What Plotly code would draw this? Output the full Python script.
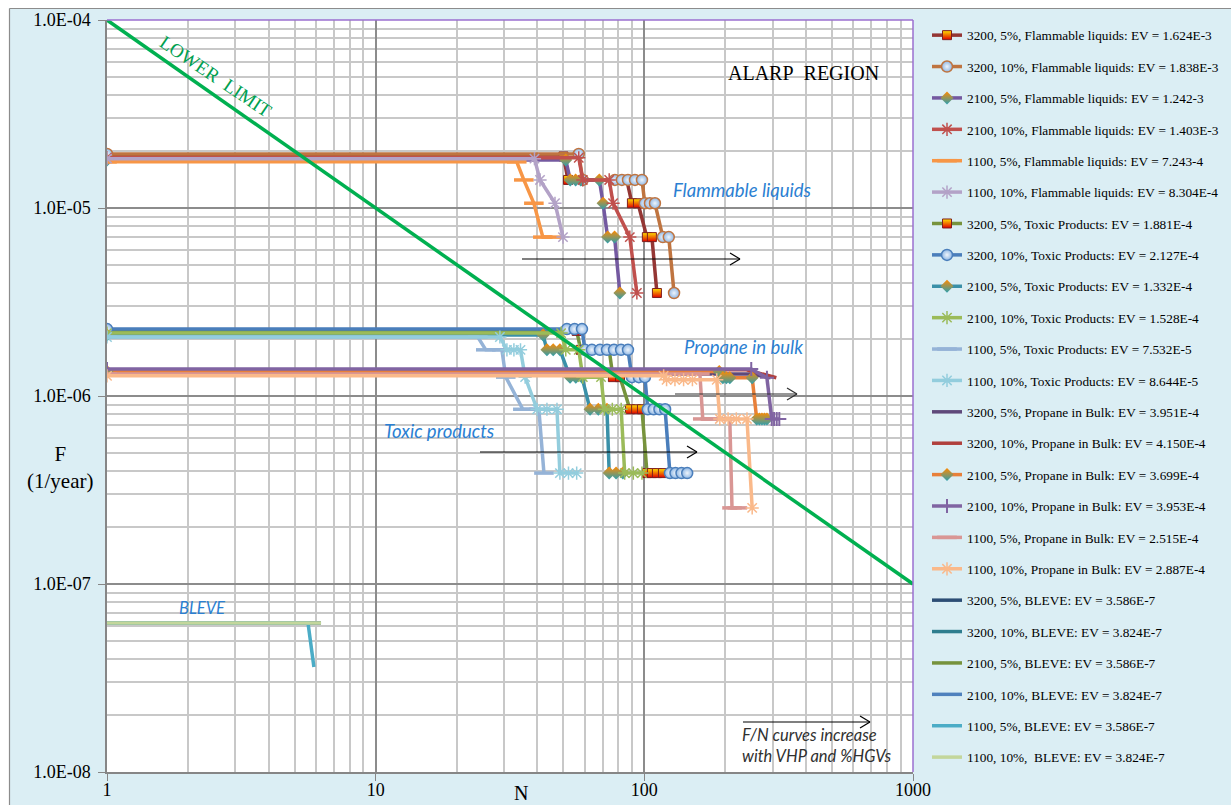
import plotly.graph_objects as go

# ---------------- data ----------------
# Flammable liquids
FL3200_5_N = [1, 50, 52, 86, 89.9, 94.7, 102.2, 106.7, 111.4]
FL3200_5_F = [1.88e-5, 1.88e-5, 1.41e-5, 1.41e-5, 1.06e-5, 1.06e-5, 7.0e-6, 7.0e-6, 3.53e-6]
FL3200_10_N = [1, 57, 59, 77.7, 82.5, 86.9, 92.3, 98.0, 100.4, 104.9, 109.5, 117.2, 123.3, 129]
FL3200_10_F = [1.94e-5, 1.94e-5, 1.41e-5, 1.41e-5, 1.41e-5, 1.41e-5, 1.41e-5, 1.41e-5,
               1.06e-5, 1.06e-5, 1.06e-5, 7.0e-6, 7.0e-6, 3.53e-6]
FL2100_5_N = [1, 51, 53, 55.5, 58, 68, 70.2, 73.0, 77.5, 81.1]
FL2100_5_F = [1.80e-5, 1.80e-5, 1.41e-5, 1.41e-5, 1.41e-5, 1.41e-5, 1.06e-5, 7.0e-6, 7.0e-6, 3.53e-6]
FL2100_10_N = [1, 57, 59, 74, 76.5, 88.3, 93.8]
FL2100_10_F = [1.85e-5, 1.85e-5, 1.41e-5, 1.41e-5, 1.06e-5, 7.0e-6, 3.53e-6]
FL1100_5_N = [1, 33.5, 35.6, 38.8, 41.9, 45.2]
FL1100_5_F = [1.76e-5, 1.76e-5, 1.41e-5, 1.06e-5, 7.0e-6, 7.0e-6]
FL1100_10_N = [1, 39, 40.9, 46.5, 49.8]
FL1100_10_F = [1.83e-5, 1.83e-5, 1.41e-5, 1.06e-5, 7.0e-6]

# Toxic products
TX3200_5_N = [1, 56, 58, 74, 76.4, 81.2, 88.4, 93.2, 98.0, 102.3, 106.7, 111.4, 117.3]
TX3200_5_F = [2.22e-6, 2.22e-6, 1.76e-6, 1.76e-6, 1.26e-6, 1.26e-6, 8.5e-7, 8.5e-7, 8.5e-7,
              3.89e-7, 3.89e-7, 3.89e-7, 3.89e-7]
TX3200_10_N = [1, 51.5, 55, 58.6, 60.1, 63.8, 68.4, 72.6, 77.1, 81.9, 86.9, 89.9, 95.4, 100.5,
               103, 108.3, 113.8, 119.5, 124.5, 130.6, 137.5, 144.4]
TX3200_10_F = [2.27e-6, 2.27e-6, 2.27e-6, 2.27e-6, 1.76e-6, 1.76e-6, 1.76e-6, 1.76e-6, 1.76e-6,
               1.76e-6, 1.76e-6, 1.26e-6, 1.26e-6, 1.26e-6, 8.5e-7, 8.5e-7, 8.5e-7, 8.5e-7,
               3.89e-7, 3.89e-7, 3.89e-7, 3.89e-7]
TX2100_5_N = [1, 42, 43.4, 45.8, 48.5, 52.9, 55.6, 58.6, 62.8, 67.4, 72.6, 74, 78.5, 83.2]
TX2100_5_F = [2.11e-6, 2.11e-6, 1.76e-6, 1.76e-6, 1.76e-6, 1.26e-6, 1.26e-6, 1.26e-6,
              8.5e-7, 8.5e-7, 8.5e-7, 3.89e-7, 3.89e-7, 3.89e-7]
TX2100_10_N = [1, 49, 51, 57, 59, 69, 71, 76, 82, 84.5, 91, 98]
TX2100_10_F = [2.16e-6, 2.16e-6, 1.76e-6, 1.76e-6, 1.26e-6, 1.26e-6, 8.5e-7, 8.5e-7, 8.5e-7,
               3.89e-7, 3.89e-7, 3.89e-7]
TX1100_5_N = [1, 24, 25.7, 29.5, 30.5, 35.3, 40.5, 42.3]
TX1100_5_F = [2.06e-6, 2.06e-6, 1.76e-6, 1.76e-6, 1.26e-6, 8.5e-7, 8.5e-7, 3.89e-7]
TX1100_10_N = [1, 29, 30.8, 32.7, 34.6, 36, 39.9, 43.4, 47.3, 48.5, 52.2, 56]
TX1100_10_F = [2.06e-6, 2.06e-6, 1.76e-6, 1.76e-6, 1.76e-6, 1.26e-6, 8.5e-7, 8.5e-7, 8.5e-7,
               3.89e-7, 3.89e-7, 3.89e-7]

# Propane in bulk
PR3200_5_N = [1, 250, 295]
PR3200_5_F = [1.31e-6, 1.31e-6, 1.25e-6]
PR3200_10_N = [1, 240, 310]
PR3200_10_F = [1.38e-6, 1.38e-6, 1.25e-6]
PR2100_5_N = [1, 190, 196, 202, 208, 252, 262, 268, 274, 280, 286]
PR2100_5_F = [1.35e-6, 1.35e-6, 1.25e-6, 1.25e-6, 1.25e-6, 1.25e-6, 7.55e-7, 7.55e-7, 7.55e-7,
              7.55e-7, 7.55e-7]
PR2100_10_N = [1, 250, 286, 298, 304, 311, 318]
PR2100_10_F = [1.39e-6, 1.39e-6, 1.25e-6, 7.55e-7, 7.55e-7, 7.55e-7, 7.55e-7]
PR1100_5_N = [1, 161, 165, 176, 208, 212, 222]
PR1100_5_F = [1.31e-6, 1.31e-6, 7.55e-7, 7.55e-7, 7.55e-7, 2.54e-7, 2.54e-7]
PR1100_10_N = [1, 118, 121, 130, 140, 151, 186, 191, 205, 220, 241, 252]
PR1100_10_F = [1.28e-6, 1.28e-6, 1.22e-6, 1.22e-6, 1.22e-6, 1.22e-6, 1.22e-6, 7.55e-7, 7.55e-7,
               7.55e-7, 7.55e-7, 2.54e-7]

# BLEVE
BL3200_5_N, BL3200_5_F = [1, 6.26], [6.2e-8, 6.2e-8]
BL3200_10_N, BL3200_10_F = [1, 6.26], [6.2e-8, 6.2e-8]
BL2100_5_N, BL2100_5_F = [1, 6.26], [6.2e-8, 6.2e-8]
BL2100_10_N, BL2100_10_F = [1, 6.26], [6.2e-8, 6.2e-8]
BL1100_5_N, BL1100_5_F = [1, 5.6, 5.89], [6.2e-8, 6.2e-8, 3.62e-8]
BL1100_10_N, BL1100_10_F = [1, 6.26], [6.2e-8, 6.2e-8]

# Lower limit criterion line
LL_N = [1, 1000]
LL_F = [1e-4, 1e-7]

X_TICKS = [1, 10, 100, 1000]
X_TICKTEXT = ["1", "10", "100", "1000"]
Y_TICKS = [1e-8, 1e-7, 1e-6, 1e-5, 1e-4]
Y_TICKTEXT = ["1.0E-08", "1.0E-07", "1.0E-06", "1.0E-05", "1.0E-04"]

# ---------------- styles ----------------
def SQ():
    return dict(symbol="square", size=9, color="#FFE000",
                gradient=dict(type="vertical", color="#E00000"),
                line=dict(color="#7F1F1F", width=1))

def CI(edge):
    return dict(symbol="circle", size=11, color="#8DB6E4",
                gradient=dict(type="radial", color="#EEF4FB"),
                line=dict(color=edge, width=1.5))

def DI():
    return dict(symbol="diamond", size=10, color="#FF8A00",
                gradient=dict(type="vertical", color="#2A9FB0"),
                line=dict(width=0))

def AST(c):
    return dict(symbol="asterisk-open", size=11, line=dict(color=c, width=1.5))

def DASH(c):
    return dict(symbol="line-ew-open", size=14, line=dict(color=c, width=3.5))

def PLUS(c):
    return dict(symbol="cross-thin-open", size=10, line=dict(color=c, width=2))

series = [
    ("3200, 5%, Flammable liquids: EV = 1.624E-3", FL3200_5_N, FL3200_5_F, "#943634", SQ()),
    ("3200, 10%, Flammable liquids: EV = 1.838E-3", FL3200_10_N, FL3200_10_F, "#BF7440", CI("#BF7440")),
    ("2100, 5%, Flammable liquids: EV = 1.242-3", FL2100_5_N, FL2100_5_F, "#7459A0", DI()),
    ("2100, 10%, Flammable liquids: EV = 1.403E-3", FL2100_10_N, FL2100_10_F, "#C0504D", AST("#C0504D")),
    ("1100, 5%, Flammable liquids: EV = 7.243-4", FL1100_5_N, FL1100_5_F, "#F79646", DASH("#F79646")),
    ("1100, 10%, Flammable liquids: EV = 8.304E-4", FL1100_10_N, FL1100_10_F, "#B3A2C7", AST("#B3A2C7")),
    ("3200, 5%, Toxic Products: EV = 1.881E-4", TX3200_5_N, TX3200_5_F, "#77933C", SQ()),
    ("3200, 10%, Toxic Products: EV = 2.127E-4", TX3200_10_N, TX3200_10_F, "#4A7EBB", CI("#4A7EBB")),
    ("2100, 5%, Toxic Products: EV = 1.332E-4", TX2100_5_N, TX2100_5_F, "#3A90A8", DI()),
    ("2100, 10%, Toxic Products: EV = 1.528E-4", TX2100_10_N, TX2100_10_F, "#9BBB59", AST("#9BBB59")),
    ("1100, 5%, Toxic Products: EV = 7.532E-5", TX1100_5_N, TX1100_5_F, "#95B3D7", DASH("#95B3D7")),
    ("1100, 10%, Toxic Products: EV = 8.644E-5", TX1100_10_N, TX1100_10_F, "#93CDDD", AST("#93CDDD")),
    ("3200, 5%, Propane in Bulk: EV = 3.951E-4", PR3200_5_N, PR3200_5_F, "#5F497A", None),
    ("3200, 10%, Propane in Bulk: EV = 4.150E-4", PR3200_10_N, PR3200_10_F, "#B0403D", None),
    ("2100, 5%, Propane in Bulk: EV = 3.699E-4", PR2100_5_N, PR2100_5_F, "#E8803A", DI()),
    ("2100, 10%, Propane in Bulk: EV = 3.953E-4", PR2100_10_N, PR2100_10_F, "#8064A2", PLUS("#8064A2")),
    ("1100, 5%, Propane in Bulk: EV = 2.515E-4", PR1100_5_N, PR1100_5_F, "#D99694", DASH("#D99694")),
    ("1100, 10%, Propane in Bulk: EV = 2.887E-4", PR1100_10_N, PR1100_10_F, "#FAB98A", AST("#FAB98A")),
    ("3200, 5%, BLEVE: EV = 3.586E-7", BL3200_5_N, BL3200_5_F, "#2C4D75", None),
    ("3200, 10%, BLEVE: EV = 3.824E-7", BL3200_10_N, BL3200_10_F, "#2E7D8E", None),
    ("2100, 5%, BLEVE: EV = 3.586E-7", BL2100_5_N, BL2100_5_F, "#76923C", None),
    ("2100, 10%, BLEVE: EV = 3.824E-7", BL2100_10_N, BL2100_10_F, "#4F81BD", None),
    ("1100, 5%, BLEVE: EV = 3.586E-7", BL1100_5_N, BL1100_5_F, "#4BACC6", None),
    ("1100, 10%,\u00a0 BLEVE: EV = 3.824E-7", BL1100_10_N, BL1100_10_F, "#C3D69B", None),
]

fig = go.Figure()
for i, (name, N, F, col, mk) in enumerate(series):
    kw = dict(x=N, y=F, name=name, legendgroup=f"g{i}",
              line=dict(color=col, width=3.5))
    if mk:
        kw.update(mode="lines+markers", marker=mk)
    else:
        kw.update(mode="lines")
    fig.add_trace(go.Scatter(**kw))

fig.add_trace(go.Scatter(x=LL_N, y=LL_F, mode="lines", showlegend=False,
                         line=dict(color="#00B050", width=3.5)))

# ---------------- layout ----------------
W, H = 1231, 805
PL, PR_, PT, PB = 107, 913, 20, 772


def px(x, y):
    return (x - PL) / (PR_ - PL), (PB - y) / (PB - PT)


shapes = []
# outer white margin + grey frame of the chart object
for (x0, y0, x1, y1) in [(-10, -10, 9, 815), (-10, -10, 1240, 8)]:
    a, b = px(x0, y0)
    c, d = px(x1, y1)
    shapes.append(dict(type="rect", xref="paper", yref="paper", x0=a, y0=b, x1=c, y1=d,
                       fillcolor="white", line=dict(width=0), layer="below"))
a, b = px(9.5, 8.5)
c, d = px(1240, 815)
shapes.append(dict(type="line", xref="paper", yref="paper", x0=a, y0=b, x1=a, y1=d,
                   line=dict(color="#8C8C8C", width=1.2)))
shapes.append(dict(type="line", xref="paper", yref="paper", x0=a, y0=b, x1=c, y1=b,
                   line=dict(color="#8C8C8C", width=1.2)))
# purple top/right border of plot area
shapes.append(dict(type="line", xref="paper", yref="paper", x0=0, y0=1, x1=1, y1=1,
                   line=dict(color="#9B6FD0", width=1.5)))
shapes.append(dict(type="line", xref="paper", yref="paper", x0=1, y0=0, x1=1, y1=1,
                   line=dict(color="#9B6FD0", width=1.5)))


def arrow(x0, x1, y, color="#000000"):
    a, b = px(x0, y)
    c, _ = px(x1, y)
    h1, t1 = px(x1 - 10, y - 6)
    h2, t2 = px(x1 - 10, y + 6)
    for (u0, v0, u1, v1) in [(a, b, c, b), (h1, t1, c, b), (h2, t2, c, b)]:
        shapes.append(dict(type="line", xref="paper", yref="paper", x0=u0, y0=v0, x1=u1, y1=v1,
                           line=dict(color=color, width=1.2)))


arrow(522, 740, 259)
arrow(675, 797, 394, "#303030")
arrow(480, 697, 452)
arrow(743, 870, 722)

ann = []


def text(x, y, t, size, color="#000000", family="Liberation Serif", angle=0, xanchor="center",
         align="center"):
    a, b = px(x, y)
    ann.append(dict(x=a, y=b, xref="paper", yref="paper", text=t, showarrow=False,
                    font=dict(size=size, color=color, family=family), textangle=angle,
                    xanchor=xanchor, yanchor="middle", align=align))


BLUE = "#2B7FD2"
text(742, 190, "<i>Flammable liquids</i>", 18.5, BLUE, "Lato")
text(743, 347, "<i>Propane in bulk</i>", 18.5, BLUE, "Lato")
text(439, 431, "<i>Toxic products</i>", 18.5, BLUE, "Lato")
text(202, 608, "<i>BLEVE</i>", 16.5, BLUE, "Lato")
text(740, 745, "<i>F/N curves increase<br>with VHP and %HGVs</i>", 16.5, "#303030", "Lato",
     xanchor="left", align="left")
text(803, 73, "ALARP\u00a0 REGION", 20)
text(216, 76, "LOWER\u00a0 LIMIT", 19, "#00A050", angle=34)
text(60, 467, "F<br>(1/year)", 21)
text(521, 793, "N", 20)

axis_common = dict(type="log", showline=True, linecolor="#868686", linewidth=1.5,
                   gridcolor="#8C8C8C", gridwidth=1.5, ticks="outside", ticklen=7,
                   tickcolor="#868686", zeroline=False, automargin=False,
                   tickfont=dict(family="Liberation Serif", size=18, color="#000000"),
                   minor=dict(dtick="D1", showgrid=True, gridcolor="#C8C8C8", gridwidth=1.5,
                              ticks=""))

fig.update_layout(
    width=W, height=H,
    margin=dict(l=PL, r=W - PR_, t=PT, b=H - PB, pad=0, autoexpand=False),
    paper_bgcolor="#DBEEF4", plot_bgcolor="#FFFFFF",
    xaxis=dict(range=[0, 3], tickvals=X_TICKS, ticktext=X_TICKTEXT, ticklabelstandoff=-6,
               **axis_common),
    yaxis=dict(range=[-8, -4], tickvals=Y_TICKS, ticktext=Y_TICKTEXT, ticklabelstandoff=4,
               **axis_common),
    legend=dict(x=px(927, 0)[0], xanchor="left", y=px(0, 20)[1], yanchor="top",
                traceorder="grouped", tracegroupgap=11.1, bgcolor="rgba(0,0,0,0)",
                font=dict(family="Liberation Serif", size=13.3, color="#000000"),
                itemsizing="trace", maxheight=800),
    shapes=shapes, annotations=ann,
    showlegend=True,
)

fig.write_html("out.html")
